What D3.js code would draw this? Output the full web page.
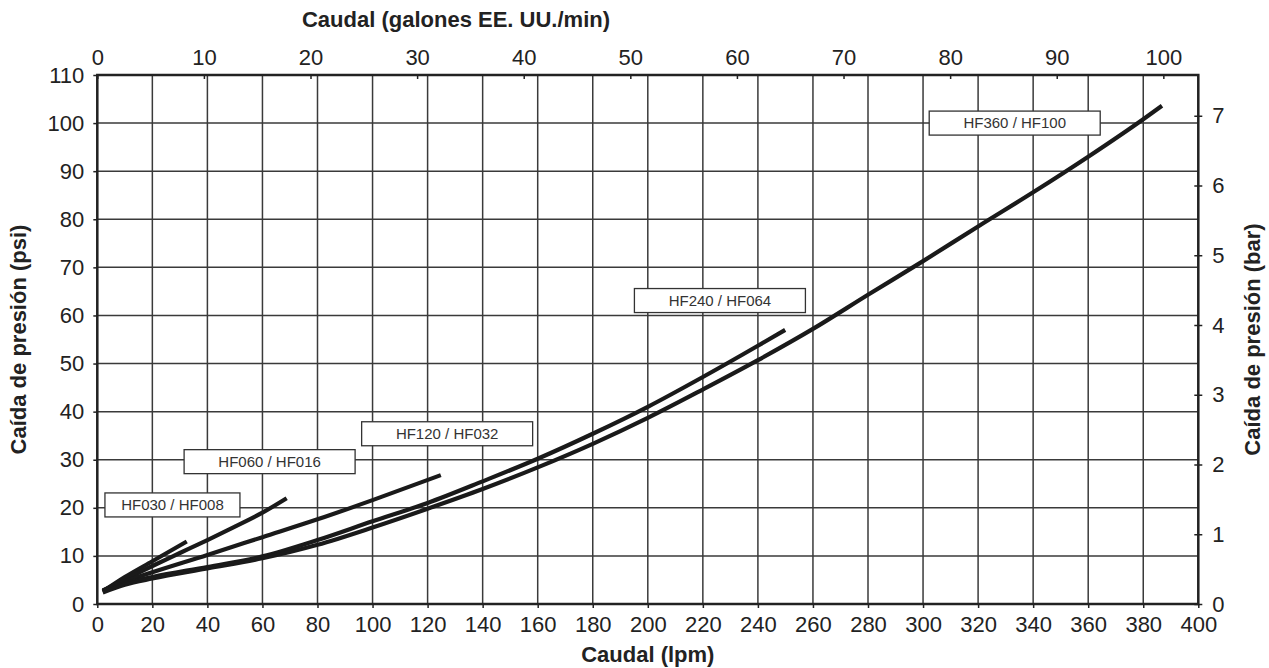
<!DOCTYPE html>
<html>
<head>
<meta charset="utf-8">
<script src="https://cdn.jsdelivr.net/npm/d3@7"></script>
<style>
  body { margin: 0; background: #fff; }
  svg { font-family: "Liberation Sans", Arial, Helvetica, sans-serif; }
</style>
</head>
<body>
<div id="chart"></div>
<script>

// curve data: [flow (lpm), pressure drop (psi)]
var hf030 = [[2, 2.6], [10, 5.6], [20, 8.9], [32.5, 13.0]];
var hf060 = [[2, 2.8], [10, 5.1], [20, 7.9], [30, 10.6], [40, 13.3], [50, 16.1], [60, 19.0], [68.8, 22.0]];
var hf120 = [[2, 2.8], [10, 4.7], [20, 6.6], [40, 10.2], [60, 13.9], [80, 17.6], [100, 21.6], [124.8, 26.8]];
var hf240 = [[2, 2.6], [10, 4.3], [20, 5.6], [40, 7.7], [60, 9.9], [80, 13.3], [100, 17.2], [120, 21.0],
             [140, 25.5], [160, 30.2], [180, 35.4], [200, 41.0], [220, 47.2], [240, 53.7], [249.9, 57.0]];
var hf360 = [[2, 2.4], [10, 4.0], [20, 5.3], [40, 7.4], [60, 9.5], [80, 12.3], [100, 15.9], [120, 19.8],
             [140, 23.9], [160, 28.4], [180, 33.3], [200, 38.7], [220, 44.6], [240, 50.7], [260, 57.2],
             [280, 64.3], [300, 71.3], [320, 78.5], [340, 85.6], [360, 93.0], [380, 100.8], [386.8, 103.6]];

var seriesNames = ["HF030 / HF008", "HF060 / HF016", "HF120 / HF032", "HF240 / HF064", "HF360 / HF100"];
// where each label box sits, in chart units [lpm, psi]
var labelAt = [[27.3, 20.6], [62.6, 29.6], [127.1, 35.4], [226.2, 63.1], [333.3, 100.0]];

var lpmTicks = d3.range(0, 401, 20);
var psiTicks = d3.range(0, 111, 10);
var galTicks = d3.range(0, 101, 10);
var barTicks = d3.range(0, 8, 1);

var LPM_MAX = 400, PSI_MAX = 110;
var GAL_MAX = 103.28;           // top axis end (US gal/min)
var BAR_MAX = PSI_MAX / 14.5038; // right axis end (bar)

// layout
var W = 1269, H = 668;
var margin = {top: 75, right: 70.7, bottom: 64, left: 97.3},
    width = W - margin.left - margin.right,
    height = H - margin.top - margin.bottom;

var svg = d3.select("#chart").append("svg")
    .attr("width", W)
    .attr("height", H);

var g = svg.append("g")
    .attr("transform", "translate(" + margin.left + "," + margin.top + ")");

// scales
var x = d3.scaleLinear().domain([0, LPM_MAX]).range([0, width]);
var y = d3.scaleLinear().domain([0, PSI_MAX]).range([height, 0]);
var xTop = d3.scaleLinear().domain([0, GAL_MAX]).range([0, width]);
var yRight = d3.scaleLinear().domain([0, BAR_MAX]).range([height, 0]);

var ink = "#222";
var gridColor = "#3a3a3a";

// grid
g.append("g").selectAll("line")
  .data(lpmTicks)
  .enter().append("line")
  .attr("x1", function(d) { return x(d); })
  .attr("x2", function(d) { return x(d); })
  .attr("y1", 0).attr("y2", height)
  .attr("stroke", gridColor).attr("stroke-width", 1.5);

g.append("g").selectAll("line")
  .data(psiTicks)
  .enter().append("line")
  .attr("x1", 0).attr("x2", width)
  .attr("y1", function(d) { return y(d); })
  .attr("y2", function(d) { return y(d); })
  .attr("stroke", gridColor).attr("stroke-width", 1.5);

// axes
function styleAxis(sel) {
  sel.select(".domain").remove();
  sel.selectAll(".tick line").attr("stroke", ink).attr("stroke-width", 1.5);
  sel.selectAll(".tick text").attr("fill", ink).style("font-size", "22px");
}

g.append("g")
  .attr("transform", "translate(0," + height + ")")
  .call(d3.axisBottom(x).tickValues(lpmTicks).tickSize(4).tickPadding(8))
  .call(styleAxis);

g.append("g")
  .call(d3.axisLeft(y).tickValues(psiTicks).tickSize(4).tickPadding(9))
  .call(styleAxis);

g.append("g")
  .call(d3.axisTop(xTop).tickValues(galTicks).tickSizeInner(-4).tickSizeOuter(0).tickPadding(10))
  .call(styleAxis);

var rightAxis = g.append("g")
  .attr("transform", "translate(" + width + ",0)")
  .call(d3.axisRight(yRight).tickValues(barTicks).tickSize(4).tickPadding(10))
  .call(styleAxis);
rightAxis.selectAll(".tick line").attr("x1", -4);

// frame
g.append("rect")
  .attr("width", width).attr("height", height)
  .attr("fill", "none")
  .attr("stroke", ink).attr("stroke-width", 2.5);

// curves
var line = d3.line()
  .x(function(d) { return x(d[0]); })
  .y(function(d) { return y(d[1]); })
  .curve(d3.curveMonotoneX);

var allSeries = [hf030, hf060, hf120, hf240, hf360];

g.append("g").selectAll("path")
  .data(allSeries)
  .enter().append("path")
  .attr("d", line)
  .attr("fill", "none")
  .attr("stroke", "#1a1a1a")
  .attr("stroke-width", 4.2)
  .attr("stroke-linecap", "butt");

// label boxes
var boxW = [135, 171, 171, 171, 171], boxH = 24;

var labels = g.append("g").selectAll("g")
  .data(seriesNames)
  .enter().append("g")
  .attr("transform", function(d, i) {
    return "translate(" + x(labelAt[i][0]) + "," + y(labelAt[i][1]) + ")";
  });

labels.append("rect")
  .attr("x", function(d, i) { return -boxW[i] / 2; })
  .attr("y", -boxH / 2)
  .attr("width", function(d, i) { return boxW[i]; })
  .attr("height", boxH)
  .attr("fill", "#fff")
  .attr("stroke", "#333")
  .attr("stroke-width", 1.3);

labels.append("text")
  .attr("text-anchor", "middle")
  .attr("dy", "0.36em")
  .attr("fill", "#333")
  .style("font-size", "15px")
  .text(function(d) { return d; });

// axis titles
svg.append("text")
  .attr("x", margin.left + width / 2).attr("y", 662)
  .attr("text-anchor", "middle")
  .attr("fill", ink)
  .style("font-size", "22px").style("font-weight", "bold")
  .text("Caudal (lpm)");

svg.append("text")
  .attr("x", 456).attr("y", 27)
  .attr("text-anchor", "middle")
  .attr("fill", ink)
  .style("font-size", "22px").style("font-weight", "bold")
  .text("Caudal (galones EE. UU./min)");

svg.append("text")
  .attr("transform", "translate(26," + (margin.top + height / 2) + ") rotate(-90)")
  .attr("text-anchor", "middle")
  .attr("fill", ink)
  .style("font-size", "22px").style("font-weight", "bold")
  .text("Caída de presión (psi)");

svg.append("text")
  .attr("transform", "translate(1260," + (margin.top + height / 2) + ") rotate(-90)")
  .attr("text-anchor", "middle")
  .attr("fill", ink)
  .style("font-size", "22px").style("font-weight", "bold")
  .text("Caída de presión (bar)");

</script>
</body>
</html>
